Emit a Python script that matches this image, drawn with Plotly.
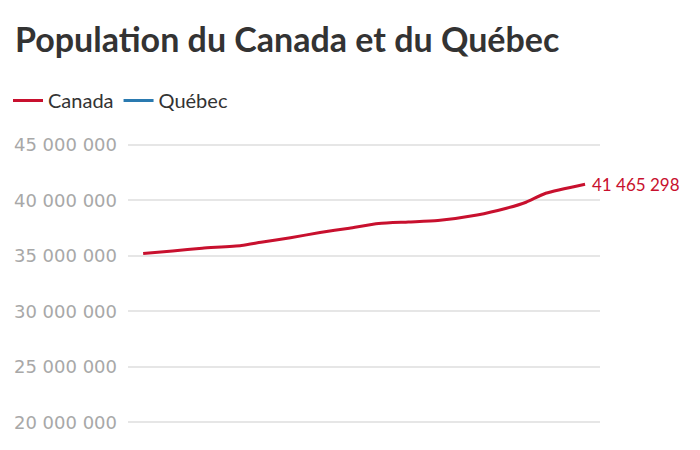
import plotly.graph_objects as go

# Data (population, quarterly estimates)
canada_dates = ["2013-07-01", "2014-04-01", "2015-01-01", "2016-01-01", "2016-07-01",
                "2017-04-01", "2018-01-01", "2018-10-01", "2019-07-01", "2020-04-01",
                "2021-01-01", "2022-01-01", "2022-10-01", "2023-04-01", "2023-10-01",
                "2024-10-01"]
canada_values = [35220000, 35450000, 35690000, 35940000, 36230000,
                 36640000, 37110000, 37500000, 37920000, 38060000,
                 38200000, 38690000, 39300000, 39840000, 40650000,
                 41465298]

# Québec series (below the visible y range in the picture)
quebec_dates = ["2013-07-01", "2024-10-01"]
quebec_values = [8150000, 9000000]

y_ticks = [20000000, 25000000, 30000000, 35000000, 40000000, 45000000]
last_label = "41 465 298"

RED = "#c8102e"
BLUE = "#2a7ab0"

fig = go.Figure()
fig.add_trace(go.Scatter(x=canada_dates, y=canada_values, name="Canada", mode="lines",
                         line=dict(color=RED, width=3, shape="spline", smoothing=0.6),
                         hoverinfo="skip"))
fig.add_trace(go.Scatter(x=quebec_dates, y=quebec_values, name="Québec", mode="lines",
                         line=dict(color=BLUE, width=3), hoverinfo="skip"))

fig.add_annotation(x=canada_dates[-1], y=canada_values[-1], text=last_label,
                   showarrow=False, xanchor="left", xshift=5,
                   font=dict(family="Lato", size=17, color=RED))

fig.update_layout(
    width=700, height=450,
    margin=dict(l=120, r=108, t=127, b=28, autoexpand=False),
    paper_bgcolor="white", plot_bgcolor="white",
    separators=", ",
    title=dict(text="Population du Canada et du Québec", xref="container", yref="container",
               x=7/700, xanchor="left", y=1 - 20/450, yanchor="top",
               pad=dict(l=0, t=0, r=0, b=0),
               font=dict(family="Lato", size=34, color="#333333", weight="bold")),
    showlegend=True,
    legend=dict(orientation="h", xref="container", yref="container",
                x=0.0, y=1 - 73/450, xanchor="left", yanchor="top",
                font=dict(family="Lato", size=20, color="#333333"),
                itemwidth=30, bgcolor="rgba(0,0,0,0)"),
    xaxis=dict(visible=False, range=["2013-02-10", "2025-02-17"]),
    yaxis=dict(range=[19310000, 45900000], tickvals=y_ticks, tickformat=",d",
               automargin=False,
               showgrid=True, gridcolor="#e6e6e6", gridwidth=1.5,
               zeroline=False, showline=False, ticks="", ticklabelstandoff=10,
               tickfont=dict(family="DejaVu Sans", size=18, color="#a8a8a8")),
)

fig.write_html("out.html")
